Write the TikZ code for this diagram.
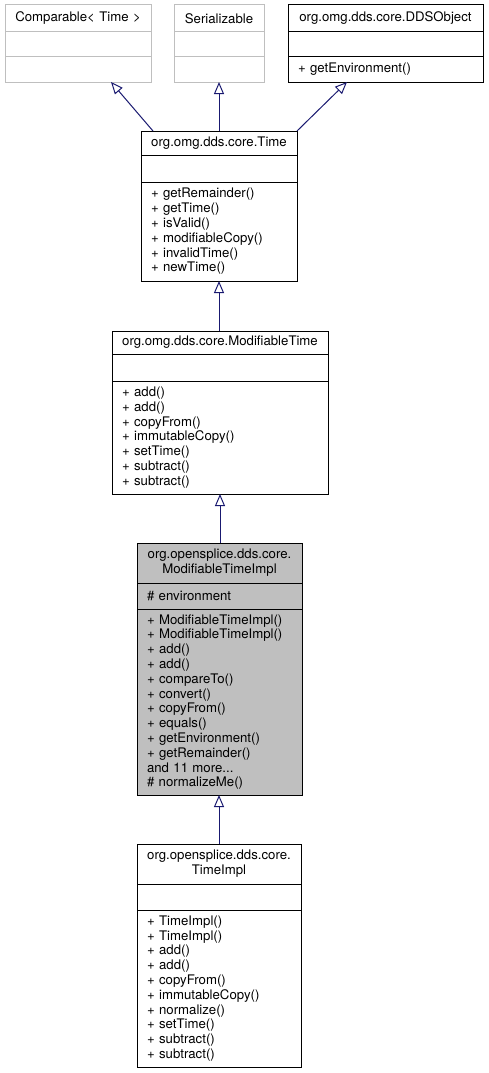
\documentclass[tikz,border=0pt]{standalone}
\usepackage{fontspec}
\usetikzlibrary{positioning, arrows.meta}
\newfontfamily\umlfont{TeX Gyre Heros}
\definecolor{umlgray}{HTML}{BFBFBF}
\definecolor{umlnavy}{HTML}{191970}
\tikzset{classpart/.style={draw,outer sep=0pt,inner xsep=10pt,inner ysep=0pt,line width=1pt,
    font=\umlfont\fontsize{13.2}{14.8}\selectfont}}
\tikzset{ctitle/.style={classpart,align=center}}
\tikzset{cbody/.style={classpart,align=left}}
\tikzset{inherit/.style={draw=umlnavy,line width=1pt,-{Triangle[open,length=12pt,width=10pt]}}}

\begin{document}
\begin{tikzpicture}[x=1pt,y=-1pt]
    \useasboundingbox (0,0) rectangle (489,1073);

    % interfaces and base object
    \node[ctitle,draw=umlgray,anchor=north,text width=126pt,minimum height=27pt](cmpTitle) at (78,5) {Comparable< Time >};
    \node[cbody,draw=umlgray,below=0pt of cmpTitle,text width=126pt,minimum height=25pt](cmpAttr) {};
    \node[cbody,draw=umlgray,below=0pt of cmpAttr,text width=126pt,minimum height=25pt](cmpMeth) {};

    \node[ctitle,draw=umlgray,anchor=north,text width=70pt,minimum height=27pt](serTitle) at (219,5) {Serializable};
    \node[cbody,draw=umlgray,below=0pt of serTitle,text width=70pt,minimum height=25pt](serAttr) {};
    \node[cbody,draw=umlgray,below=0pt of serAttr,text width=70pt,minimum height=25pt](serMeth) {};

    \node[ctitle,anchor=north,text width=175pt,minimum height=27pt](ddsTitle) at (385.5,5) {org.omg.dds.core.DDSObject};
    \node[cbody,below=0pt of ddsTitle,text width=175pt,minimum height=25pt](ddsAttr) {};
    \node[cbody,below=0pt of ddsAttr,text width=175pt,minimum height=25pt](ddsMeth) {+ getEnvironment()};

    % Time
    \node[ctitle,anchor=north,text width=136pt,minimum height=24pt](timeTitle) at (219,131) {org.omg.dds.core.Time};
    \node[cbody,below=0pt of timeTitle,text width=136pt,minimum height=27pt](timeAttr) {};
    \node[cbody,below=0pt of timeAttr,text width=136pt,minimum height=99pt](timeMeth) {+ getRemainder()\\+ getTime()\\+ isValid()\\+ modifiableCopy()\\+ invalidTime()\\+ newTime()};

    % ModifiableTime
    \node[ctitle,anchor=north,text width=196pt,minimum height=23pt](modTitle) at (220,331) {org.omg.dds.core.ModifiableTime};
    \node[cbody,below=0pt of modTitle,text width=196pt,minimum height=27pt](modAttr) {};
    \node[cbody,below=0pt of modAttr,text width=196pt,minimum height=113pt](modMeth) {+ add()\\+ add()\\+ copyFrom()\\+ immutableCopy()\\+ setTime()\\+ subtract()\\+ subtract()};

    % ModifiableTimeImpl
    \node[ctitle,fill=umlgray,anchor=north,text width=145pt,minimum height=40pt](mtiTitle) at (219.5,543) {org.opensplice.dds.core.\\ModifiableTimeImpl};
    \node[cbody,fill=umlgray,below=0pt of mtiTitle,text width=145pt,minimum height=26pt](mtiAttr) {\# environment};
    \node[cbody,fill=umlgray,below=0pt of mtiAttr,text width=145pt,minimum height=186pt](mtiMeth) {+ ModifiableTimeImpl()\\+ ModifiableTimeImpl()\\+ add()\\+ add()\\+ compareTo()\\+ convert()\\+ copyFrom()\\+ equals()\\+ getEnvironment()\\+ getRemainder()\\and 11 more...\\\# normalizeMe()};

    % TimeImpl
    \node[ctitle,anchor=north,text width=144pt,minimum height=40pt](tiTitle) at (219,844) {org.opensplice.dds.core.\\TimeImpl};
    \node[cbody,below=0pt of tiTitle,text width=144pt,minimum height=26pt](tiAttr) {};
    \node[cbody,below=0pt of tiAttr,text width=144pt,minimum height=157pt](tiMeth) {+ TimeImpl()\\+ TimeImpl()\\+ add()\\+ add()\\+ copyFrom()\\+ immutableCopy()\\+ normalize()\\+ setTime()\\+ subtract()\\+ subtract()};

    % inheritance
    \draw[inherit] ([xshift=12pt]timeTitle.north west) -- ([xshift=33pt]cmpMeth.south);
    \draw[inherit] (timeTitle.north) -- (timeTitle.north |- serMeth.south);
    \draw[inherit] (timeTitle.north east) -- ([xshift=-38.5pt]ddsMeth.south);
    \draw[inherit] (modTitle.north -| timeMeth.south) -- (timeMeth.south);
    \draw[inherit] (mtiTitle.north -| modMeth.south) -- (modMeth.south);
    \draw[inherit] (tiTitle.north) -- (tiTitle.north |- mtiMeth.south);
\end{tikzpicture}
\end{document}
